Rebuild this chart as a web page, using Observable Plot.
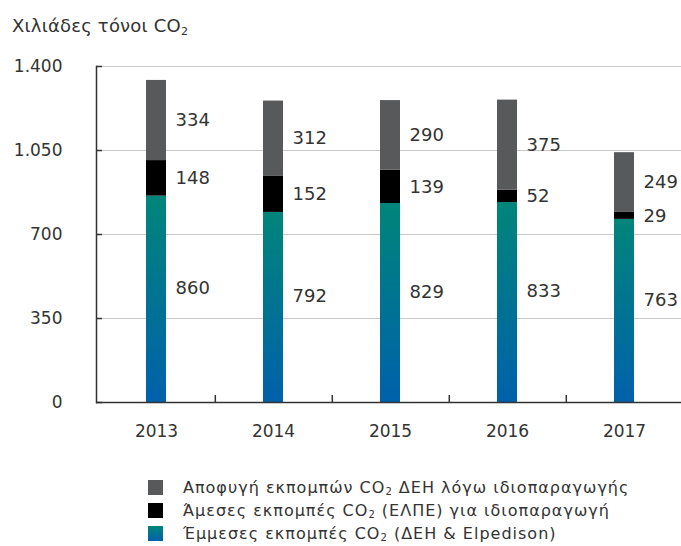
<!DOCTYPE html>
<html>
<head>
<meta charset="utf-8">
<script src="https://cdn.jsdelivr.net/npm/d3@7"></script>
<script src="https://cdn.jsdelivr.net/npm/@observablehq/plot@0.6"></script>
<style>
  body { margin: 0; background: #fff; font-family: "DejaVu Sans", sans-serif; color: #333; }
  #wrap { width: 681px; height: 546px; position: relative; overflow: hidden; }
  #title { position: absolute; left: 12px; top: 15px; font-size: 18px; letter-spacing: 0.2px; }
  #title sub { font-size: 11px; vertical-align: -3px; line-height: 0; }
  #chart { position: absolute; left: 0; top: 45px; }
  #legend { position: absolute; left: 148px; top: 476px; font-size: 16px; letter-spacing: 1px; }
  .row { display: flex; align-items: center; height: 23px; white-space: nowrap; }
  .sw { width: 15px; height: 15px; margin-right: 20px; flex: none; }
  .row sub { font-size: 10px; vertical-align: -2px; line-height: 0; }
</style>
</head>
<body>
<div id="wrap">
  <div id="title">Χιλιάδες τόνοι CO<sub>2</sub></div>
  <div id="chart"></div>
  <div id="legend"></div>
</div>
<script>
const years = ["2013", "2014", "2015", "2016", "2017"];
const seriesNames = [
  "Έμμεσες εκπομπές CO₂ (ΔΕΗ & Elpedison)",
  "Άμεσες εκπομπές CO₂ (ΕΛΠΕ) για ιδιοπαραγωγή",
  "Αποφυγή εκπομπών CO₂ ΔΕΗ λόγω ιδιοπαραγωγής"
];
const legendHtml = [
  "Έμμεσες εκπομπές CO<sub>2</sub> (ΔΕΗ &amp; Elpedison)",
  "Άμεσες εκπομπές CO<sub>2</sub> (ΕΛΠΕ) για ιδιοπαραγωγή",
  "Αποφυγή εκπομπών CO<sub>2</sub> ΔΕΗ λόγω ιδιοπαραγωγής"
];
const indirect = [860, 792, 829, 833, 763];
const direct = [148, 152, 139, 52, 29];
const avoided = [334, 312, 290, 375, 249];
const yTicks = [0, 350, 700, 1050, 1400];
const seriesColors = ["url(#tealgrad)", "#000000", "#58595b"];
const legendSwatches = ["linear-gradient(#00857a, #0061ab)", "#000000", "#58595b"];

const seriesValues = [indirect, direct, avoided];
const data = [];
seriesNames.forEach((s, i) => years.forEach((y, j) => data.push({year: y, series: s, value: seriesValues[i][j]})));

const fmt = d3.formatLocale({decimal: ",", thousands: ".", grouping: [3], currency: ["", "€"]}).format(",");
const blank = () => "";

const W = 681, H = 410;
const mL = 96, mR = -3;
const step = (W - mL - mR) / years.length;
const font = "DejaVu Sans, sans-serif";

const chart = Plot.plot({
  width: W, height: H,
  marginLeft: mL, marginRight: mR, marginTop: 21, marginBottom: 53,
  style: {fontFamily: font, fontSize: "17px", color: "#333", overflow: "visible"},
  x: {domain: years, paddingInner: 0.83, paddingOuter: 0.415, label: null},
  y: {domain: [0, 1400], label: null},
  color: {domain: seriesNames, range: seriesColors},
  marks: [
    Plot.gridY(yTicks, {stroke: "#c8c8c8", strokeOpacity: 1, strokeWidth: 1}),
    Plot.axisY({ticks: yTicks, tickFormat: fmt, tickSize: 0, tickPadding: 34, fontSize: 17, fill: "#333", label: null}),
    Plot.axisY({ticks: yTicks, tickFormat: blank, tickSize: -6, stroke: "#333", strokeWidth: 1.5, label: null}),
    Plot.barY(data, {x: "year", y: "value", fill: "series"}),
    Plot.text(data, Plot.stackY({x: "year", y: "value", z: "series", text: d => d.series === seriesNames[0] ? d.value : "", dx: 19, dy: -11, textAnchor: "start", fontSize: 18, fill: "#333"})),
    Plot.text(data, Plot.stackY({x: "year", y: "value", z: "series", text: d => d.series !== seriesNames[0] ? d.value : "", dx: 19, textAnchor: "start", fontSize: 18, fill: "#333"})),
    Plot.ruleY([0], {stroke: "#333", strokeWidth: 1.5}),
    Plot.axisX({tickSize: 0, tickPadding: 22, fontSize: 17, fill: "#333", label: null}),
    Plot.axisX({ticks: years.slice(0, 4), tickSize: -7, tickFormat: blank, dx: step / 2, stroke: "#333", strokeWidth: 1.5, label: null}),
    Plot.frame({anchor: "left", stroke: "#333", strokeWidth: 1.5})
  ]
});

d3.select(chart).insert("defs", ":first-child").html(
  '<linearGradient id="tealgrad" x1="0" y1="0" x2="0" y2="1">' +
  '<stop offset="0" stop-color="#00857a"/><stop offset="1" stop-color="#0061ab"/></linearGradient>'
);
document.getElementById("chart").appendChild(chart);

const order = [2, 1, 0];
document.getElementById("legend").innerHTML = order.map(i =>
  `<div class="row"><div class="sw" style="background:${legendSwatches[i]}"></div><span>${legendHtml[i]}</span></div>`
).join("");
</script>
</body>
</html>
